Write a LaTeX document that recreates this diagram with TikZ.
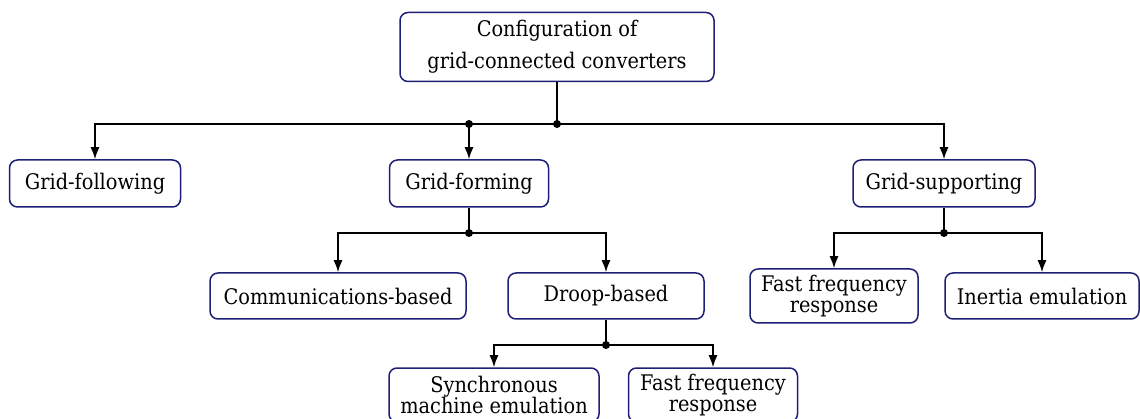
\documentclass[tikz,border=0pt]{standalone}
\usepackage{fontspec}
\setmainfont{DejaVu Serif Condensed}
\usetikzlibrary{arrows.meta}
\definecolor{boxline}{HTML}{1F1F78}
\tikzset{
  box/.style={draw=boxline, line width=1.5pt, rounded corners=8pt, fill=white,
    align=center, inner sep=0pt, font=\fontsize{21.5}{21.5}\selectfont},
  link/.style={draw=black, line width=1.6pt},
  arr/.style={link, -{Latex[length=12pt,width=9pt]}},
  jdot/.style={circle, fill=black, inner sep=0pt, minimum size=8pt},
}
\begin{document}
\begin{tikzpicture}[x=1pt,y=-1pt]
\useasboundingbox (0,0) rectangle (1140,419);

% tree of converter configurations
\node[box, minimum width=314pt, minimum height=69pt, font=\fontsize{21.5}{32}\selectfont]
  (root) at (557,47) {Configuration of\\grid-connected converters};
\node[box, minimum width=171pt, minimum height=47pt] (gfol) at (95,183.5) {Grid-following};
\node[box, minimum width=159pt, minimum height=47pt] (gfor) at (469,183.5) {Grid-forming};
\node[box, minimum width=182pt, minimum height=47pt] (gsup) at (944,183.5) {Grid-supporting};
\node[box, minimum width=256pt, minimum height=46pt] (comm) at (338,296) {Communications-based};
\node[box, minimum width=196pt, minimum height=46pt] (droop) at (606,296) {Droop-based};
\node[box, minimum width=168pt, minimum height=54pt] (ffr1) at (834,296) {Fast frequency\\response};
\node[box, minimum width=194pt, minimum height=46pt] (inert) at (1042,296) {Inertia emulation};
\node[box, minimum width=210pt, minimum height=54pt] (sync) at (494,395) {Synchronous\\machine emulation};
\node[box, minimum width=169pt, minimum height=54pt] (ffr2) at (713,395) {Fast frequency\\response};

% branch points
\coordinate (j0) at (root.south |- 0,124);
\coordinate (j0b) at (gfor.north |- 0,124);
\coordinate (j1) at (gfor.south |- 0,233);
\coordinate (j2) at (gsup.south |- 0,233);
\coordinate (j3) at (droop.south |- 0,345);

% level 1
\draw[link] (root.south) -- (j0);
\draw[arr] (j0) -| (gfol.north);
\draw[arr] (j0) -| (gsup.north);
\draw[arr] (j0b) -- (gfor.north);
\node[jdot] at (j0) {};
\node[jdot] at (j0b) {};

% grid-forming branch
\draw[link] (gfor.south) -- (j1);
\draw[arr] (j1) -| (comm.north);
\draw[arr] (j1) -| (droop.north);
\node[jdot] at (j1) {};

% grid-supporting branch
\draw[link] (gsup.south) -- (j2);
\draw[arr] (j2) -| (ffr1.north);
\draw[arr] (j2) -| (inert.north);
\node[jdot] at (j2) {};

% droop-based branch
\draw[link] (droop.south) -- (j3);
\draw[arr] (j3) -| (sync.north);
\draw[arr] (j3) -| (ffr2.north);
\node[jdot] at (j3) {};
\end{tikzpicture}
\end{document}
